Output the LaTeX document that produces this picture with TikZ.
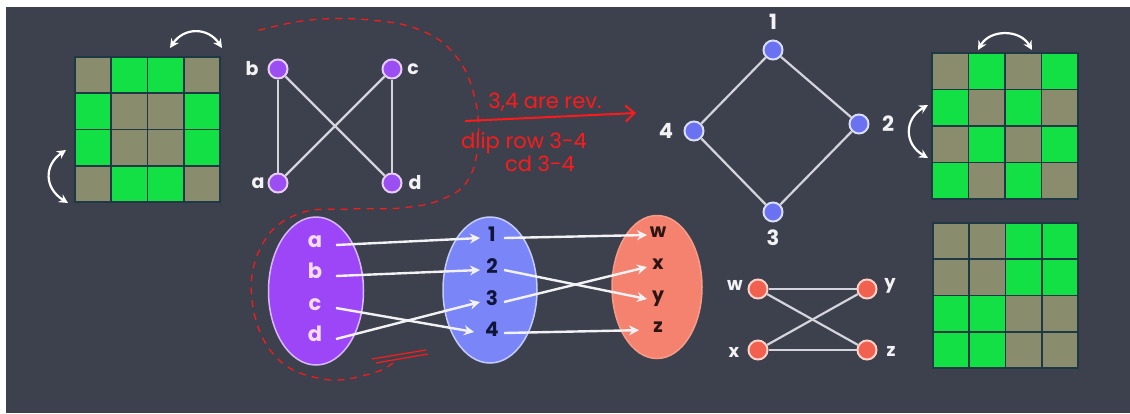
\documentclass[tikz,border=0pt]{standalone}
\usepackage{fontspec}
\setmainfont{Poppins}
\usetikzlibrary{arrows.meta,shapes.geometric}
\definecolor{board}{HTML}{3C414D}
\definecolor{cello}{HTML}{8A8C6E}
\definecolor{cellg}{HTML}{12E045}
\definecolor{gline}{HTML}{1E3844}
\definecolor{edgec}{HTML}{D4D4DC}
\definecolor{pnode}{HTML}{9B4FF2}
\definecolor{pring}{HTML}{E6CCFF}
\definecolor{bnode}{HTML}{6A72F2}
\definecolor{bring}{HTML}{D8DCFF}
\definecolor{rnode}{HTML}{F2604F}
\definecolor{rring}{HTML}{FFD0C8}
\definecolor{ellp}{HTML}{9C46F7}
\definecolor{ellpb}{HTML}{D8B8FF}
\definecolor{ellb}{HTML}{7A86F8}
\definecolor{ellbb}{HTML}{C4CCFF}
\definecolor{ellr}{HTML}{F4826E}
\definecolor{ellrb}{HTML}{F89A88}
\definecolor{ink}{HTML}{FF1A1A}
\definecolor{chalk}{HTML}{F2F2F4}
\definecolor{setink}{HTML}{F4DDF4}
\definecolor{navy}{HTML}{10163A}
\definecolor{darkred}{HTML}{2A1414}
\newcommand{\gridfour}[4]{%
  \foreach \v [count=\k from 0] in {#4} {
    \pgfmathtruncatemacro{\rr}{div(\k,4)}
    \pgfmathtruncatemacro{\cc}{mod(\k,4)}
    \filldraw[fill=cell\v, draw=gline, line width=1.8pt] ({#1+\cc*#3},{#2+\rr*#3}) rectangle ++(#3,#3);
  }
}
\tikzset{
  vtx/.style={circle, minimum size=19pt, inner sep=0pt, line width=2pt},
  pv/.style={vtx, fill=pnode, draw=pring},
  bv/.style={vtx, fill=bnode, draw=bring},
  rv/.style={vtx, fill=rnode, draw=rring},
  lbl/.style={text=chalk, font=\bfseries\fontsize{19}{19}\selectfont, inner sep=0pt},
  gedge/.style={draw=edgec, line width=2.2pt},
  farrow/.style={draw=chalk, line width=2.4pt, -{Stealth[length=10pt,width=10pt]}},
  swaparrow/.style={draw=white, line width=2.2pt, {Stealth[length=9pt,width=9pt]}-{Stealth[length=9pt,width=9pt]}},
  setlbl/.style={inner sep=0pt, outer sep=0pt, text height=1.05ex, text depth=0pt},
  redtxt/.style={text=ink, font=\fontsize{21}{21}\selectfont, inner sep=0pt},
}
\begin{document}
\begin{tikzpicture}[x=1pt,y=-1pt]
\useasboundingbox (0,0) rectangle (1130,413);
\fill[white] (0,0) rectangle (1130,413);
\fill[board] (6,7) rectangle (1130,413);

% grids
\gridfour{75}{57}{36.25}{o,g,g,o, g,o,o,g, g,o,o,g, o,g,g,o}
\gridfour{932}{53}{36.5}{o,g,o,g, g,o,g,o, o,g,o,g, g,o,g,o}
\gridfour{933}{223}{36.25}{o,o,g,g, o,o,g,g, g,g,o,o, g,g,o,o}

% swap arrows
\coordinate (s1a) at (170,48); \coordinate (s1b) at (222,48);
\draw[swaparrow] (s1a) .. controls (184,27) and (208,27) .. (s1b);
\coordinate (s2a) at (66,150); \coordinate (s2b) at (68,203);
\draw[swaparrow] (s2a) .. controls (44,165) and (44,188) .. (s2b);
\coordinate (s3a) at (978,50); \coordinate (s3b) at (1032,50);
\draw[swaparrow] (s3a) .. controls (990,29) and (1020,29) .. (s3b);
\coordinate (s4a) at (928,105); \coordinate (s4b) at (928,158);
\draw[swaparrow] (s4a) .. controls (904,119) and (904,144) .. (s4b);

% red annotation loop
\draw[ink, line width=1.2pt, dash pattern=on 7pt off 6pt] plot[smooth, tension=0.7] coordinates {(393,363) (370,374) (323,379) (275,356) (252,300) (262,245) (298,214) (350,209) (400,208) (440,200) (468,180) (478,140) (474,95) (455,55) (420,30) (370,20) (310,20) (256,31)};

% top-left graph
\node[pv] (nb) at (278,69) {};
\node[pv] (nc) at (392,69) {};
\node[pv] (na) at (278,183) {};
\node[pv] (nd) at (392,183) {};
\draw[gedge] (nb) -- (na);
\draw[gedge] (nc) -- (nd);
\draw[gedge] (nb) -- (nd);
\draw[gedge] (nc) -- (na);
\node[lbl] (tb) at (252,69) {b};
\node[lbl] (tc) at (413,69) {c};
\node[lbl] (ta) at (258,183) {a};
\node[lbl] (td) at (415,183) {d};

% red text and arrow
\node[redtxt] (r1) at (545,102) {3,4 are rev.};
\coordinate (rs) at (465,121); \coordinate (re) at (636,113);
\draw[ink, line width=2pt, -{Straight Barb[length=9pt,width=16pt]}] (rs) -- (re);
\node[redtxt] (r2) at (524,143) {dlip row 3-4};
\node[redtxt] (r3) at (540,164) {cd 3-4};

% diamond graph
\node[bv] (n1) at (773,50) {};
\node[bv] (n2) at (859,124) {};
\node[bv] (n3) at (773,212) {};
\node[bv] (n4) at (694,131) {};
\draw[gedge] (n1) -- (n2);
\draw[gedge] (n2) -- (n3);
\draw[gedge] (n3) -- (n4);
\draw[gedge] (n4) -- (n1);
\node[lbl, font=\bfseries\fontsize{21}{21}\selectfont] (t1) at (773,22) {1};
\node[lbl, font=\bfseries\fontsize{21}{21}\selectfont] (t2) at (888,124) {2};
\node[lbl, font=\bfseries\fontsize{21}{21}\selectfont] (t3) at (773,238) {3};
\node[lbl, font=\bfseries\fontsize{21}{21}\selectfont] (t4) at (666,131) {4};

% sets
\node[ellipse, minimum width=95pt, minimum height=148pt, fill=ellp, draw=ellpb, line width=1.5pt] (setA) at (316,291) {};
\node[ellipse, minimum width=94pt, minimum height=146pt, fill=ellb, draw=ellbb, line width=1.5pt] (setB) at (490,290) {};
\node[ellipse, minimum width=90pt, minimum height=143pt, fill=ellr, draw=ellrb, line width=1.5pt] (setC) at (657,287) {};

\begin{scope}[every node/.style={setlbl, minimum width=42pt, text=setink, font=\bfseries\fontsize{21}{21}\selectfont}]
\node (la) at (315,245) {a};
\node (lb) at (315,276) {b};
\node (lc) at (315,308) {c};
\node (ld) at (315,339) {d};
\end{scope}
\begin{scope}[every node/.style={setlbl, minimum width=24pt, text height=1.4ex, text=navy, font=\bfseries\fontsize{20}{20}\selectfont}]
\node (l1) at (492,238) {1};
\node (l2) at (492,270) {2};
\node (l3) at (492,302) {3};
\node (l4) at (492,333) {4};
\end{scope}
\begin{scope}[every node/.style={setlbl, minimum width=22pt, text=darkred, font=\bfseries\fontsize{19}{19}\selectfont}]
\node (lw) at (658,235) {w};
\node (lx) at (658,267) {x};
\node (ly) at (658,299) {y};
\node (lz) at (658,330) {z};
\end{scope}
\draw[farrow] (la.east) -- (l1.west);
\draw[farrow] (lb.east) -- (l2.west);
\draw[farrow, shorten >=6pt] (lc.east) -- (l4.west);
\draw[farrow] (ld.east) -- (l3.west);
\draw[farrow] (l1.east) -- (lw.west);
\draw[farrow] (l2.east) -- (ly.west);
\draw[farrow] (l3.east) -- (lx.west);
\draw[farrow, shorten >=8pt] (l4.east) -- (lz.west);

% red squiggle
\coordinate (q1) at (372,359); \coordinate (q2) at (426,350);
\coordinate (q3) at (376,363); \coordinate (q4) at (428,354);
\draw[ink, line width=1.2pt] (q1) -- (q2);
\draw[ink, line width=1.2pt] (q3) -- (q4);

% bottom-right graph
\node[rv] (vw) at (758,289) {};
\node[rv] (vy) at (867,289) {};
\node[rv] (vx) at (758,350) {};
\node[rv] (vz) at (867,350) {};
\draw[gedge] (vw) -- (vy);
\draw[gedge] (vx) -- (vz);
\draw[gedge] (vw) -- (vz);
\draw[gedge] (vx) -- (vy);
\node[lbl, font=\bfseries\fontsize{18}{18}\selectfont] (tw) at (735,285) {w};
\node[lbl, font=\bfseries\fontsize{18}{18}\selectfont] (ty) at (890,286) {y};
\node[lbl, font=\bfseries\fontsize{18}{18}\selectfont] (tx) at (734,352) {x};
\node[lbl, font=\bfseries\fontsize{18}{18}\selectfont] (tz) at (891,351) {z};
\end{tikzpicture}
\end{document}
